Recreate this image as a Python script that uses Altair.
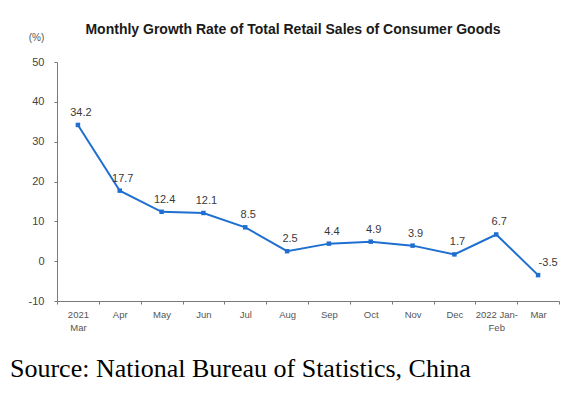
import altair as alt
import pandas as pd

months = ["2021\nMar", "Apr", "May", "Jun", "Jul", "Aug", "Sep", "Oct", "Nov", "Dec", "2022 Jan-\nFeb", "Mar"]
growth = [34.2, 17.7, 12.4, 12.1, 8.5, 2.5, 4.4, 4.9, 3.9, 1.7, 6.7, -3.5]
y_ticks = [-10, 0, 10, 20, 30, 40, 50]
title_text = "Monthly Growth Rate of Total Retail Sales of Consumer Goods"
unit_text = "(%)"
source_text = "Source: National Bureau of Statistics, China"

df = pd.DataFrame({"month": months, "growth": growth})
src = pd.DataFrame({"t": [source_text]})

blue = "#1f6fd1"
axis_gray = "#7a7a7a"

x_enc = alt.X(
    "month:N", sort=None,
    scale=alt.Scale(type="band", paddingInner=0, paddingOuter=0),
    axis=alt.Axis(
        title=None, labelAngle=0,
        labelExpr="isValid(datum.value) ? split(datum.value, '\\n') : ''",
        tickBand="extent", tickSize=3, labelPadding=5,
        labelFont="Liberation Sans", labelFontSize=9.5, labelColor="#555",
        labelLineHeight=13, domainColor=axis_gray, tickColor=axis_gray, grid=False,
    ),
)
y_enc = alt.Y(
    "growth:Q",
    scale=alt.Scale(domain=[-10, 50], nice=False),
    axis=alt.Axis(
        values=y_ticks, title=unit_text, titleAngle=0, titleX=-21, titleY=-25,
        titleAlign="center", titleBaseline="middle", titleFontSize=10,
        titleFontWeight="normal", titleColor="#555", titleFont="Liberation Sans",
        labelExpr="'' + datum.value",
        labelFont="Liberation Sans", labelFontSize=11, labelColor="#444",
        labelPadding=10, tickSize=3, domainColor=axis_gray, tickColor=axis_gray,
        grid=False,
    ),
)

base = alt.Chart(df).transform_calculate(lbl="'' + datum.growth")

line = base.mark_line(color=blue, strokeWidth=2,
                      point=alt.OverlayMarkDef(shape="square", size=20, filled=True, color=blue)
                      ).encode(x=x_enc, y=y_enc)

labels_pos = base.transform_filter("datum.growth >= 0").mark_text(
    dx=3, dy=-12, fontSize=11, font="Liberation Sans", color="#3a3a3a"
).encode(x=x_enc, y=y_enc, text="lbl:N")

labels_neg = base.transform_filter("datum.growth < 0").mark_text(
    dx=10, dy=-12, fontSize=11, font="Liberation Sans", color="#3a3a3a"
).encode(x=x_enc, y=y_enc, text="lbl:N")

source = alt.Chart(src).mark_text(
    align="left", baseline="alphabetic", fontSize=26, font="Liberation Serif", color="#000"
).encode(x=alt.value(-47), y=alt.value(315), text="t:N")

chart = alt.layer(line, labels_pos, labels_neg, source).properties(
    width=502, height=239,
    title=alt.TitleParams(title_text, font="Liberation Sans", fontSize=14, fontWeight="bold",
                          color="#1a1a1a", anchor="middle", dx=-15, dy=7, offset=2),
    autosize=alt.AutoSizeParams(type="none"),
    padding={"left": 49, "top": 54, "right": 11, "bottom": 85},
).configure_view(stroke=None)

chart.save("out.html", embed_options={"renderer": "svg", "actions": False})
